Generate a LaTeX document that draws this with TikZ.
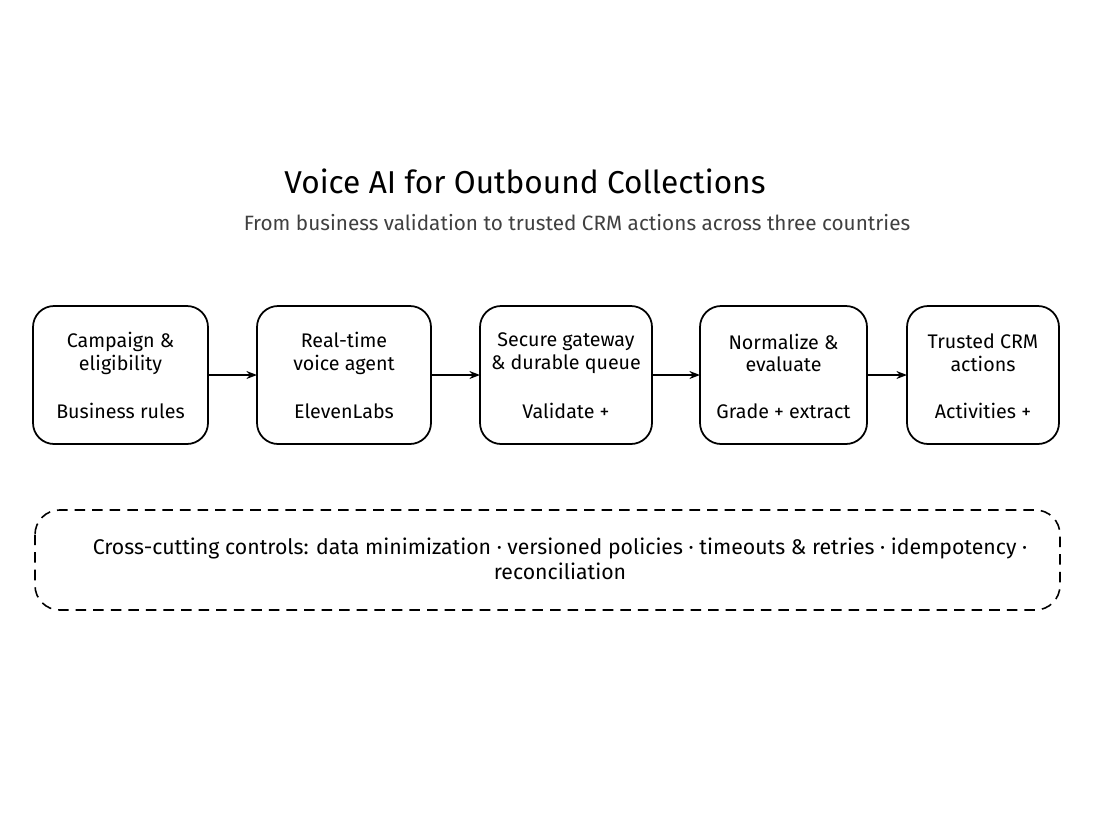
\documentclass[tikz,border=0pt]{standalone}
\usepackage{fontspec}
\setmainfont{Fira Sans}
\usetikzlibrary{arrows.meta}
\begin{document}
\begin{tikzpicture}[x=0.02cm,y=-0.02cm,
  stepbox/.style={draw,line width=1pt,rounded corners=12pt,align=center},
  arr/.style={-{Stealth[length=6pt]},line width=1pt}]
\useasboundingbox[fill=white] (0,0) rectangle (1100,825);
\node[font=\fontsize{18}{21}\selectfont] (title) at (525,181) {Voice AI for Outbound Collections};
\node[font=\fontsize{11.8}{14}\selectfont,text=black!75] (sub) at (577,223) {From business validation to trusted CRM actions across three countries};
\def\bx#1#2#3#4#5{\draw[line width=1pt,rounded corners=12pt] (#2,306) rectangle (#3,444);
 \node[stepbox,draw=none,minimum width=1pt] (#1) at ({(#2+#3)/2},375) {};
 \node[align=center,font=\fontsize{11.2}{13}\selectfont] (#1t) at ({(#2+#3)/2},353) {#4};
 \node[font=\fontsize{11.2}{13}\selectfont] (#1b) at ({(#2+#3)/2},411) {#5};
 \coordinate (#1L) at (#2,375); \coordinate (#1R) at (#3,375);}
\bx{a}{33}{208}{Campaign \&\\eligibility}{Business rules}
\bx{b}{257}{431}{Real-time\\voice agent}{ElevenLabs}
\bx{c}{480}{652}{Secure gateway\\\& durable queue}{Validate +}
\bx{d}{700}{867}{Normalize \&\\evaluate}{Grade + extract}
\bx{e}{907}{1059}{Trusted CRM\\actions}{Activities +}
\draw[arr] (aR) -- (bL);
\draw[arr] (bR) -- (cL);
\draw[arr] (cR) -- (dL);
\draw[arr] (dR) -- (eL);
\draw[dashed,line width=0.9pt,dash pattern=on 6pt off 4pt,rounded corners=14pt] (35,510) rectangle (1060,610);
\node[align=center,font=\fontsize{12.1}{14}\selectfont] (x) at (560,559) {Cross-cutting controls: data minimization · versioned policies · timeouts \& retries · idempotency ·\\reconciliation};
\end{tikzpicture}
\end{document}
